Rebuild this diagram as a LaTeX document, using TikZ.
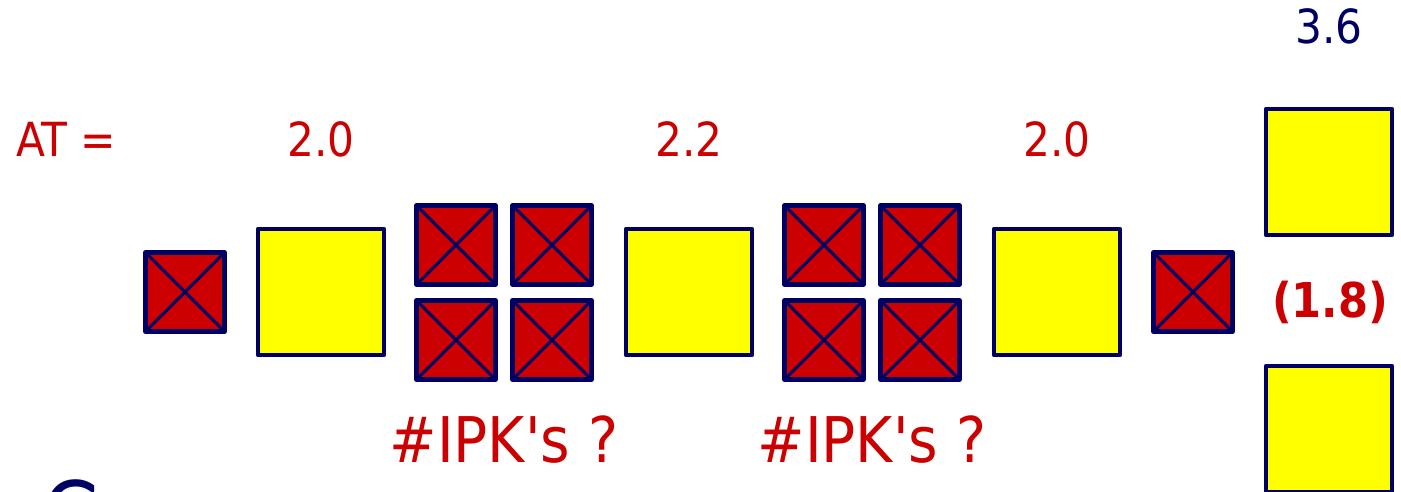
\documentclass[tikz,border=0pt]{standalone}
\usepackage{fontspec}
\setmainfont{DejaVu Sans Condensed}[Ligatures=TeXOff]
\definecolor{dred}{RGB}{204,0,0}
\definecolor{navy}{RGB}{0,0,100}
\definecolor{yel}{RGB}{255,255,0}
\tikzset{
ipk/.style={draw=navy, fill=dred, line width=4.5pt, minimum size=79pt, inner sep=0pt,
 path picture={\draw[navy, line width=3pt] (path picture bounding box.north west)--(path picture bounding box.south east)
 (path picture bounding box.north east)--(path picture bounding box.south west);}},
yelbox/.style={draw=navy, fill=yel, line width=4.5pt, minimum size=126pt, inner sep=0pt},
lab/.style={text=dred, anchor=base, font=\fontsize{47}{50}\selectfont},
}
\begin{document}
\begin{tikzpicture}[x=1pt, y=-1pt, line join=round]
\useasboundingbox (0,0) rectangle (1401,492);
%Vẽ các ô vàng
\foreach \x/\y/\n in {321/292/y1, 689/292/y2, 1057/292/y3, 1329/172/y4, 1329/429/y5}
\node[yelbox] (\n) at (\x,\y) {};
%Vẽ các ô đỏ gạch chéo
\foreach \x/\y/\n in {185/292/k1, 456/245/k2, 552/245/k3, 456/340/k4, 552/340/k5,
824/245/k6, 920/245/k7, 824/340/k8, 920/340/k9, 1193/292/k10}
\node[ipk] (\n) at (\x,\y) {};
%Nhãn
\node[lab] (at) at (66,157) {AT =};
\node[lab] (a1) at (321,157) {2.0};
\node[lab] (a2) at (689,157) {2.2};
\node[lab] (a3) at (1057,157) {2.0};
\node[lab, text=navy] (a4) at (1329,44) {3.6};
\node[lab, font=\fontsize{48}{50}\selectfont\bfseries] (a5) at (1330,317) {(1.8)};
\node[lab, font=\fontsize{63}{66}\selectfont] (q1) at (504,462) {\#IPK's ?};
\node[lab, font=\fontsize{63}{66}\selectfont] (q2) at (872,462) {\#IPK's ?};
\node[text=navy, anchor=base west, inner sep=0pt, font=\fontsize{90}{90}\selectfont] (c) at (42,546) {C};
\end{tikzpicture}
\end{document}
